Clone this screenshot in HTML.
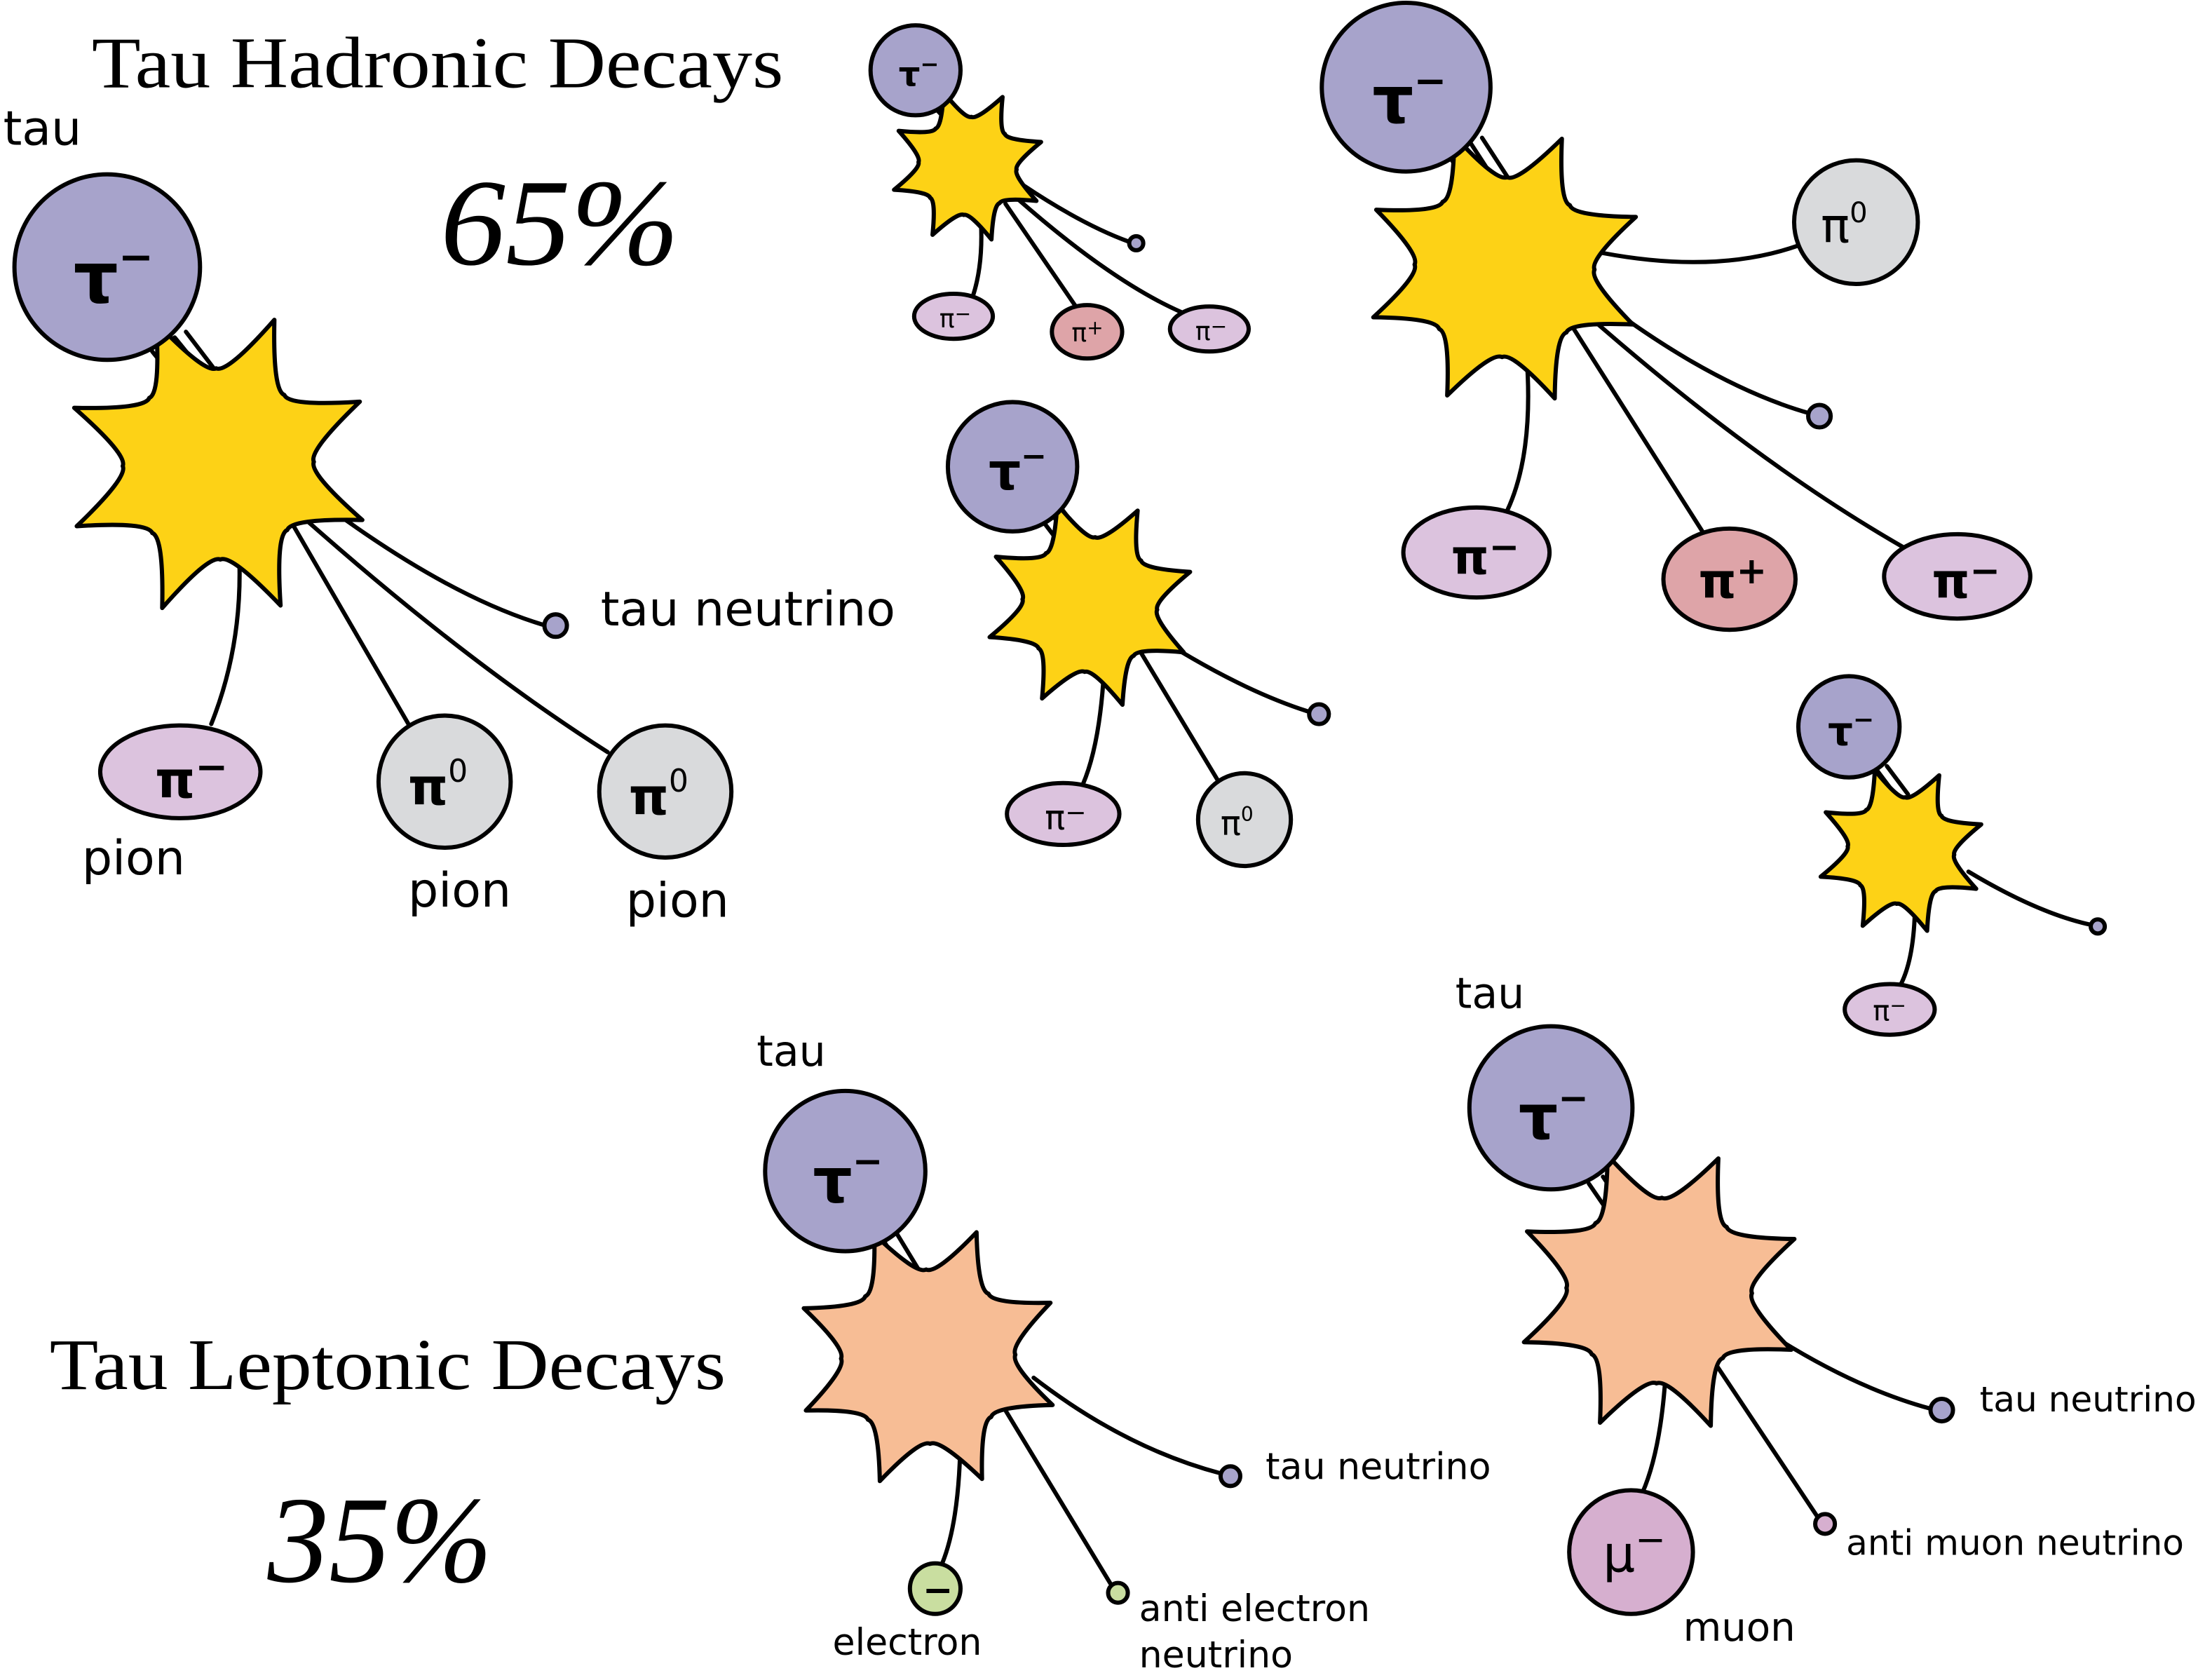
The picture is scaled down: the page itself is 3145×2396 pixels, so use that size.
<!DOCTYPE html>
<html><head><meta charset="utf-8"><style>
html,body{margin:0;padding:0;background:#fff;}
svg{display:block}
.s{font-family:"DejaVu Sans","Liberation Sans",sans-serif;fill:#000}
.t{font-family:"Liberation Serif",serif;fill:#000}
</style></head><body>
<svg id="g" width="3145" height="2396" viewBox="0 0 1568 1195" xmlns="http://www.w3.org/2000/svg">
<g fill="none" stroke="#000" stroke-width="3" stroke-linecap="round">
<path d="M170 398 Q172 460 150 515"/>
<path d="M205 368 L292 518"/>
<path d="M212 365 Q330 470 432 535"/>
<path d="M232 360 Q320 425 388 445"/>
<path d="M108 250 L142 292 M116 245 L150 287 M124 240 L158 282 M132 236 L164 278"/>
<path d="M697 150 Q700 185 692 210"/>
<path d="M715 145 L765 218"/>
<path d="M722 140 Q790 200 840 222"/>
<path d="M728 132 Q770 160 803 172"/>
<path d="M666 78 L683 96 M671 75 L688 93 M676 72 L693 90"/>
<path d="M1085 245 Q1092 320 1072 363"/>
<path d="M1118 232 L1212 380"/>
<path d="M1130 225 Q1250 330 1355 390"/>
<path d="M1140 215 Q1220 275 1287 294"/>
<path d="M1140 180 Q1220 195 1278 175"/>
<path d="M1030 110 L1056 150 M1038 106 L1064 146 M1046 102 L1072 142 M1054 98 L1080 138"/>
<path d="M785 478 Q782 530 770 558"/>
<path d="M810 462 L866 555"/>
<path d="M818 450 Q880 490 930 506"/>
<path d="M741 370 L760 395 M748 366 L767 391 M755 362 L774 387"/>
<path d="M1362 640 Q1362 680 1352 700"/>
<path d="M1400 620 Q1450 650 1488 658"/>
<path d="M1335 548 L1350 568 M1342 545 L1357 565"/>
<path d="M683 1015 Q683 1080 670 1112"/>
<path d="M710 995 L790 1127"/>
<path d="M735 980 Q800 1030 868 1048"/>
<path d="M628 882 L648 915 M638 878 L658 911"/>
<path d="M1185 970 Q1182 1030 1168 1062"/>
<path d="M1212 958 L1292 1078"/>
<path d="M1238 935 Q1310 985 1373 1002"/>
<path d="M1130 842 L1152 874 M1140 837 L1162 869"/>
</g>
<g id="stars"></g>
<g stroke="#000" stroke-width="3">
<circle cx="76" cy="190" r="66" fill="#a7a3cb"/>
<ellipse cx="128" cy="549" rx="57" ry="33" fill="#dcc3de"/>
<circle cx="316" cy="556" r="47" fill="#d9dadc"/>
<circle cx="473" cy="563" r="47" fill="#d9dadc"/>
<circle cx="395" cy="445" r="8" fill="#a7a3cb"/>
<circle cx="651" cy="50" r="32" fill="#a7a3cb"/>
<ellipse cx="678" cy="225" rx="28" ry="16" fill="#dcc3de"/>
<ellipse cx="773" cy="236" rx="25" ry="19" fill="#dea4a8"/>
<ellipse cx="860" cy="234" rx="28" ry="16" fill="#dcc3de"/>
<circle cx="808" cy="173" r="5" fill="#a7a3cb"/>
<circle cx="1000" cy="62" r="60" fill="#a7a3cb"/>
<circle cx="1320" cy="158" r="44" fill="#d9dadc"/>
<circle cx="1294" cy="296" r="8" fill="#a7a3cb"/>
<ellipse cx="1050" cy="393" rx="52" ry="32" fill="#dcc3de"/>
<ellipse cx="1230" cy="412" rx="47" ry="36" fill="#dea4a8"/>
<ellipse cx="1392" cy="410" rx="52" ry="30" fill="#dcc3de"/>
<circle cx="720" cy="332" r="46" fill="#a7a3cb"/>
<circle cx="938" cy="508" r="7" fill="#a7a3cb"/>
<ellipse cx="756" cy="579" rx="40" ry="22" fill="#dcc3de"/>
<circle cx="885" cy="583" r="33" fill="#d9dadc"/>
<circle cx="1315" cy="517" r="36" fill="#a7a3cb"/>
<circle cx="1492" cy="659" r="5" fill="#a7a3cb"/>
<ellipse cx="1344" cy="718" rx="32" ry="18" fill="#dcc3de"/>
<circle cx="601" cy="833" r="57" fill="#a7a3cb"/>
<circle cx="665" cy="1130" r="18" fill="#c9dea0"/>
<circle cx="795" cy="1133" r="7" fill="#c9dea0"/>
<circle cx="875" cy="1050" r="7" fill="#a7a3cb"/>
<circle cx="1103" cy="788" r="58" fill="#a7a3cb"/>
<circle cx="1160" cy="1104" r="44" fill="#d6afcf"/>
<circle cx="1298" cy="1084" r="7" fill="#d6afcf"/>
<circle cx="1381" cy="1003" r="8" fill="#a7a3cb"/>
</g>
<text class="t" x="65" y="62" font-size="52" textLength="492" lengthAdjust="spacingAndGlyphs">Tau Hadronic Decays</text>
<text class="t" x="313" y="188" font-size="88" font-style="italic" textLength="170" lengthAdjust="spacingAndGlyphs">65%</text>
<text class="t" x="35" y="988" font-size="52" textLength="481" lengthAdjust="spacingAndGlyphs">Tau Leptonic Decays</text>
<text class="t" x="190" y="1125" font-size="88" font-style="italic" textLength="160" lengthAdjust="spacingAndGlyphs">35%</text>
<g class="s" font-weight="bold">
<text x="52" y="215" font-size="50">τ<tspan font-size="30" dy="-22">−</tspan></text>
<text x="110" y="567" font-size="36">π<tspan font-size="28" dy="-12">−</tspan></text>
<text x="290" y="572" font-size="36">π<tspan font-size="22" dy="-16" font-weight="normal">0</tspan></text>
<text x="447" y="579" font-size="36">π<tspan font-size="22" dy="-16" font-weight="normal">0</tspan></text>
<text x="639" y="61" font-size="24">τ<tspan font-size="16" dy="-10">−</tspan></text>
<text x="976" y="87" font-size="46">τ<tspan font-size="28" dy="-20">−</tspan></text>
<text x="1295" y="172" font-size="34" font-weight="normal">π<tspan font-size="20" dy="-14">0</tspan></text>
<text x="1032" y="408" font-size="34">π<tspan font-size="26" dy="-10">−</tspan></text>
<text x="1208" y="425" font-size="34">π<tspan font-size="26" dy="-10">+</tspan></text>
<text x="1374" y="425" font-size="34">π<tspan font-size="26" dy="-10">−</tspan></text>
<text x="703" y="348" font-size="36">τ<tspan font-size="22" dy="-16">−</tspan></text>
<text x="743" y="590" font-size="24" font-weight="normal">π<tspan font-size="18" dy="-6">−</tspan></text>
<text x="868" y="594" font-size="24" font-weight="normal">π<tspan font-size="14" dy="-10">0</tspan></text>
<text x="1300" y="530" font-size="28">τ<tspan font-size="18" dy="-12">−</tspan></text>
<text x="1332" y="726" font-size="20" font-weight="normal">π<tspan font-size="14" dy="-6">−</tspan></text>
<text x="668" y="233" font-size="18" font-weight="normal">π<tspan font-size="14" dy="-5">−</tspan></text>
<text x="762" y="243" font-size="18" font-weight="normal">π<tspan font-size="14" dy="-5">+</tspan></text>
<text x="850" y="242" font-size="18" font-weight="normal">π<tspan font-size="14" dy="-5">−</tspan></text>
<text x="578" y="855" font-size="44">τ<tspan font-size="26" dy="-20">−</tspan></text>
<text x="1080" y="810" font-size="44">τ<tspan font-size="26" dy="-20">−</tspan></text>
<text x="1140" y="1118" font-size="36" font-weight="normal">μ<tspan font-size="26" dy="-14">−</tspan></text>
<text x="656" y="1140" font-size="26">−</text>
</g>
<g class="s">
<text x="2" y="103" font-size="34">tau</text>
<text x="427" y="445" font-size="34">tau neutrino</text>
<text x="58" y="622" font-size="34">pion</text>
<text x="290" y="645" font-size="34">pion</text>
<text x="445" y="652" font-size="34">pion</text>
<text x="538" y="758" font-size="30">tau</text>
<text x="1035" y="717" font-size="30">tau</text>
<text x="592" y="1177" font-size="26">electron</text>
<text x="810" y="1153" font-size="26">anti electron</text>
<text x="810" y="1186" font-size="26">neutrino</text>
<text x="900" y="1052" font-size="26">tau neutrino</text>
<text x="1197" y="1167" font-size="28">muon</text>
<text x="1313" y="1106" font-size="25">anti muon neutrino</text>
<text x="1408" y="1004" font-size="25">tau neutrino</text>
</g>
</svg>
<script>
(function(){
var g=document.getElementById('stars');
function star(cx,cy,R,r,n,rot,fill){
 var d='';
 for(var i=0;i<n;i++){
  var a=rot+i*2*Math.PI/n, b=a+Math.PI/n, c=a+2*Math.PI/n;
  var ox=cx+R*Math.cos(a), oy=cy+R*Math.sin(a);
  var ix=cx+r*Math.cos(b), iy=cy+r*Math.sin(b);
  var nx=cx+R*Math.cos(c), ny=cy+R*Math.sin(c);
  if(i==0) d+='M'+ox.toFixed(1)+' '+oy.toFixed(1);
  d+=' Q'+(cx+r*0.95*Math.cos(b-0.12)).toFixed(1)+' '+(cy+r*0.95*Math.sin(b-0.12)).toFixed(1)+' '+ix.toFixed(1)+' '+iy.toFixed(1);
  d+=' Q'+(cx+r*0.95*Math.cos(b+0.12)).toFixed(1)+' '+(cy+r*0.95*Math.sin(b+0.12)).toFixed(1)+' '+nx.toFixed(1)+' '+ny.toFixed(1);
 }
 d+='Z';
 var p=document.createElementNS('http://www.w3.org/2000/svg','path');
 p.setAttribute('d',d);p.setAttribute('fill',fill);p.setAttribute('stroke','#000');p.setAttribute('stroke-width','3');p.setAttribute('stroke-linejoin','round');
 g.appendChild(p);
}
var Y='#fdd216',O='#f7bd95';
star(155,330,110,68,8,-1.2,Y);
star(688,118,55,35,8,-1.1,Y);
star(1070,190,100,64,8,-1.15,Y);
star(775,430,75,48,8,-1.1,Y);
star(1352,605,60,38,8,-1.1,Y);
star(660,965,95,62,8,-1.2,O);
star(1180,918,103,66,8,-1.15,O);
})();
</script>
</body></html>
